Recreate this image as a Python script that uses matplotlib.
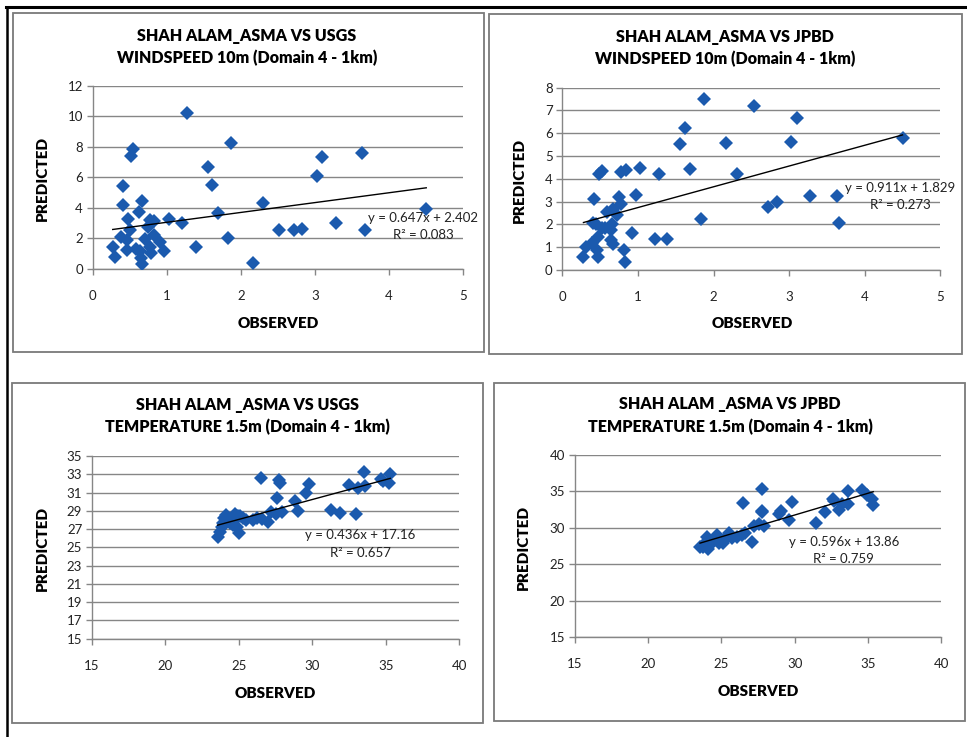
import numpy as np
import matplotlib
matplotlib.use("Agg")
import matplotlib.pyplot as plt
from matplotlib.lines import Line2D
from matplotlib.patches import Rectangle

W, H = 967, 737
BLUE = "#1B5AAE"
GREY = "#868686"

plt.rcParams.update({
    "font.family": ["Lato", "DejaVu Sans"],
    "font.size": 8,
})

# ── Data ─────────────────────────────────────────────────
# Wind speed, SHAH ALAM_ASMA vs USGS
wind_usgs_obs = [0.27, 0.30, 0.41, 0.41, 0.38, 0.46, 0.47, 0.50, 0.46, 0.52,
                 0.55, 0.58, 0.63, 0.66, 0.64, 0.65, 0.66, 0.71, 0.75, 0.77,
                 0.83, 0.77, 0.79, 0.83, 0.91, 0.96, 1.03, 1.21, 1.27, 1.39,
                 1.55, 1.61, 1.69, 1.83, 1.86, 2.16, 2.30, 2.52, 2.71, 2.83,
                 3.03, 3.10, 3.28, 3.64, 3.67, 4.50]
wind_usgs_pred = [1.42, 0.79, 5.43, 4.18, 2.06, 1.88, 3.26, 2.54, 1.23, 7.40,
                  7.86, 1.27, 3.72, 4.45, 1.18, 0.68, 0.31, 1.97, 2.72, 3.20,
                  3.13, 1.45, 1.00, 2.21, 1.77, 1.18, 3.26, 2.98, 10.25, 1.40,
                  6.70, 5.47, 3.68, 2.04, 8.28, 0.39, 4.29, 2.54, 2.54, 2.61,
                  6.09, 7.36, 2.98, 7.58, 2.54, 3.94]

# Wind speed, SHAH ALAM_ASMA vs JPBD
wind_jpbd_obs = [0.28, 0.31, 0.39, 0.42, 0.41, 0.45, 0.47, 0.46, 0.47, 0.48,
                 0.53, 0.52, 0.56, 0.59, 0.64, 0.64, 0.67, 0.66, 0.67, 0.72,
                 0.75, 0.78, 0.78, 0.84, 0.81, 0.83, 0.92, 0.97, 1.03, 1.22,
                 1.28, 1.39, 1.56, 1.62, 1.69, 1.83, 1.87, 2.16, 2.31, 2.54,
                 2.72, 2.84, 3.03, 3.11, 3.28, 3.64, 3.66, 4.50]
wind_jpbd_pred = [0.58, 1.02, 1.20, 3.10, 2.08, 2.02, 1.43, 0.88, 0.58, 4.20,
                  4.34, 1.86, 1.83, 2.56, 1.75, 1.32, 1.13, 2.00, 2.66, 2.41,
                  3.22, 2.89, 4.28, 4.39, 0.88, 0.37, 1.61, 3.29, 4.49, 1.35,
                  4.23, 1.37, 5.51, 6.21, 4.42, 2.22, 7.50, 5.56, 4.21, 7.21,
                  2.78, 3.00, 5.60, 6.65, 3.25, 3.26, 2.05, 5.79]

# Temperature, SHAH ALAM_ASMA vs USGS
temp_usgs_obs = [23.55, 23.71, 23.82, 23.89, 23.98, 24.12, 24.27, 24.39, 24.60, 24.76,
                 24.88, 25.02, 24.96, 25.10, 25.30, 25.50, 25.98, 26.20, 26.48, 26.55,
                 26.95, 27.20, 27.50, 27.60, 27.75, 27.80, 27.90, 28.85, 29.00, 29.55,
                 29.75, 31.30, 31.90, 32.50, 32.95, 33.10, 33.50, 33.55, 34.65, 34.80,
                 35.20, 35.30]
temp_usgs_pred = [26.17, 26.72, 27.26, 27.63, 28.18, 28.54, 28.18, 27.63, 27.40, 28.60,
                  27.26, 26.60, 28.40, 28.40, 28.20, 28.00, 28.00, 28.20, 32.55, 28.15,
                  27.80, 28.90, 28.65, 30.40, 32.40, 32.05, 28.90, 30.10, 29.00, 31.00,
                  31.90, 29.10, 28.80, 31.85, 28.65, 31.45, 33.30, 31.70, 32.50, 32.30,
                  32.05, 33.00]

# Temperature, SHAH ALAM_ASMA vs JPBD
temp_jpbd_obs = [23.55, 23.73, 23.90, 24.00, 24.10, 24.20, 24.45, 24.73, 24.86, 25.10,
                 25.25, 25.55, 25.70, 26.05, 26.40, 26.50, 26.60, 27.07, 27.20, 27.60,
                 27.80, 27.75, 27.80, 27.90, 28.95, 29.10, 29.60, 29.85, 31.45, 32.10,
                 32.60, 32.70, 33.00, 33.20, 33.65, 33.65, 34.60, 34.90, 35.30, 35.36]
temp_jpbd_pred = [27.41, 27.32, 27.96, 28.78, 27.05, 28.20, 28.10, 29.00, 27.96, 27.96,
                  28.40, 29.30, 28.55, 28.70, 29.00, 33.43, 29.30, 28.10, 30.30, 30.50,
                  35.25, 32.30, 32.10, 30.20, 31.90, 32.30, 31.10, 33.57, 30.60, 32.10,
                  34.00, 33.60, 32.40, 33.20, 35.00, 33.20, 35.20, 34.50, 34.00, 33.10]

# Trendline coefficients and R² as printed on the charts
fits = [(0.647, 2.402, 0.083), (0.911, 1.829, 0.273),
        (0.436, 17.16, 0.657), (0.596, 13.86, 0.759)]

titles = [("SHAH ALAM_ASMA VS USGS", "WINDSPEED 10m (Domain 4 - 1km)"),
          ("SHAH ALAM_ASMA VS JPBD", "WINDSPEED 10m (Domain 4 - 1km)"),
          ("SHAH ALAM _ASMA VS USGS", "TEMPERATURE 1.5m (Domain 4 - 1km)"),
          ("SHAH ALAM _ASMA VS JPBD", "TEMPERATURE 1.5m (Domain 4 - 1km)")]

xlims = [(0, 5), (0, 5), (15, 40), (15, 40)]
xsteps = [1, 1, 5, 5]
ylims = [(0, 12), (0, 8), (15, 35), (15, 40)]
ysteps = [2, 1, 2, 5]

# ── Layout (pixel positions of the reference) ─────────────
# axes box: left, top, right, bottom
ax_px = [(92.7, 86, 463.3, 268.7), (562.3, 87.7, 940.3, 270),
         (92, 456, 459.3, 638.7), (574.7, 454.7, 941.3, 637.3)]
# panel frames: left, top, right, bottom
frame_px = [(13, 13, 484, 352), (489, 14, 962, 354),
            (12, 383, 483, 723), (494, 383, 965, 721)]
title_px = [(247, 36, 58), (725, 37, 59), (247, 405, 427), (730, 404, 427)]
ylab_px = [(42, 178), (519, 180), (42, 548), (523, 547)]
xlab_px = [(278, 323), (752, 324), (275, 693), (758, 692)]
eq_pos = [(4.46, 3.33, 2.2), (4.47, 3.6, 2.85), (33.26, 26.3, 24.4), (33.36, 28.1, 25.7)]

data = [(wind_usgs_obs, wind_usgs_pred), (wind_jpbd_obs, wind_jpbd_pred),
        (temp_usgs_obs, temp_usgs_pred), (temp_jpbd_obs, temp_jpbd_pred)]


def fx(px):
    return px / W


def fy(py):
    return 1 - py / H


fig = plt.figure(figsize=(W / 100, H / 100), dpi=100)

# outer document lines
fig.add_artist(Line2D([fx(6), fx(967)], [fy(7), fy(7)], color="black", lw=2.2))
fig.add_artist(Line2D([fx(7), fx(7)], [fy(7), fy(737)], color="black", lw=1.8))

for i in range(4):
    l, t, r, b = frame_px[i]
    fig.add_artist(Rectangle((fx(l), fy(b)), fx(r) - fx(l), fy(t) - fy(b),
                             transform=fig.transFigure, fill=False,
                             edgecolor="#7a7a7a", lw=1.3))

    l, t, r, b = ax_px[i]
    ax = fig.add_axes([fx(l), fy(b), fx(r) - fx(l), fy(t) - fy(b)])
    obs, pred = data[i]
    ax.plot(obs, pred, linestyle="none", marker="D", markersize=7,
            color=BLUE, markeredgewidth=0, zorder=3)

    slope, icpt, r2 = fits[i]
    xs = np.array([min(obs), max(obs)])
    ax.plot(xs, slope * xs + icpt, color="black", lw=1.0, zorder=4)

    ex, ey1, ey2 = eq_pos[i]
    ax.text(ex, ey1, f"y = {slope:g}x + {icpt:g}", ha="center", va="center",
            fontsize=9.5, color="#222222", clip_on=False, zorder=5)
    ax.text(ex, ey2, f"R² = {r2:.3f}", ha="center", va="center",
            fontsize=9.5, color="#222222", clip_on=False, zorder=5)

    x0, x1 = xlims[i]
    y0, y1 = ylims[i]
    ax.set_xlim(x0, x1)
    ax.set_ylim(y0, y1)
    ax.set_xticks(np.arange(x0, x1 + 0.01, xsteps[i]))
    ax.set_yticks(np.arange(y0, y1 + 0.01, ysteps[i]))
    ax.yaxis.grid(True, color=GREY, lw=1.0)
    ax.set_axisbelow(True)
    for s in ("top", "right"):
        ax.spines[s].set_visible(False)
    for s in ("left", "bottom"):
        ax.spines[s].set_color(GREY)
        ax.spines[s].set_linewidth(1.0)
    ax.tick_params(axis="both", direction="out", length=4, width=1.0,
                   color=GREY, labelsize=9.5, labelcolor="#222222")
    ax.tick_params(axis="x", pad=11)
    ax.tick_params(axis="y", pad=3)

    tx, ty1, ty2 = title_px[i]
    fig.text(fx(tx), fy(ty1), titles[i][0], ha="center", va="center",
             fontsize=11.5, fontweight="heavy")
    fig.text(fx(tx), fy(ty2), titles[i][1], ha="center", va="center",
             fontsize=11.5, fontweight="heavy")
    yx, yy = ylab_px[i]
    fig.text(fx(yx), fy(yy), "PREDICTED", ha="center", va="center",
             rotation=90, fontsize=11, fontweight="heavy")
    lx, ly = xlab_px[i]
    fig.text(fx(lx), fy(ly), "OBSERVED", ha="center", va="center",
             fontsize=11, fontweight="heavy")

fig.savefig("out.png", dpi=100, facecolor="white")
